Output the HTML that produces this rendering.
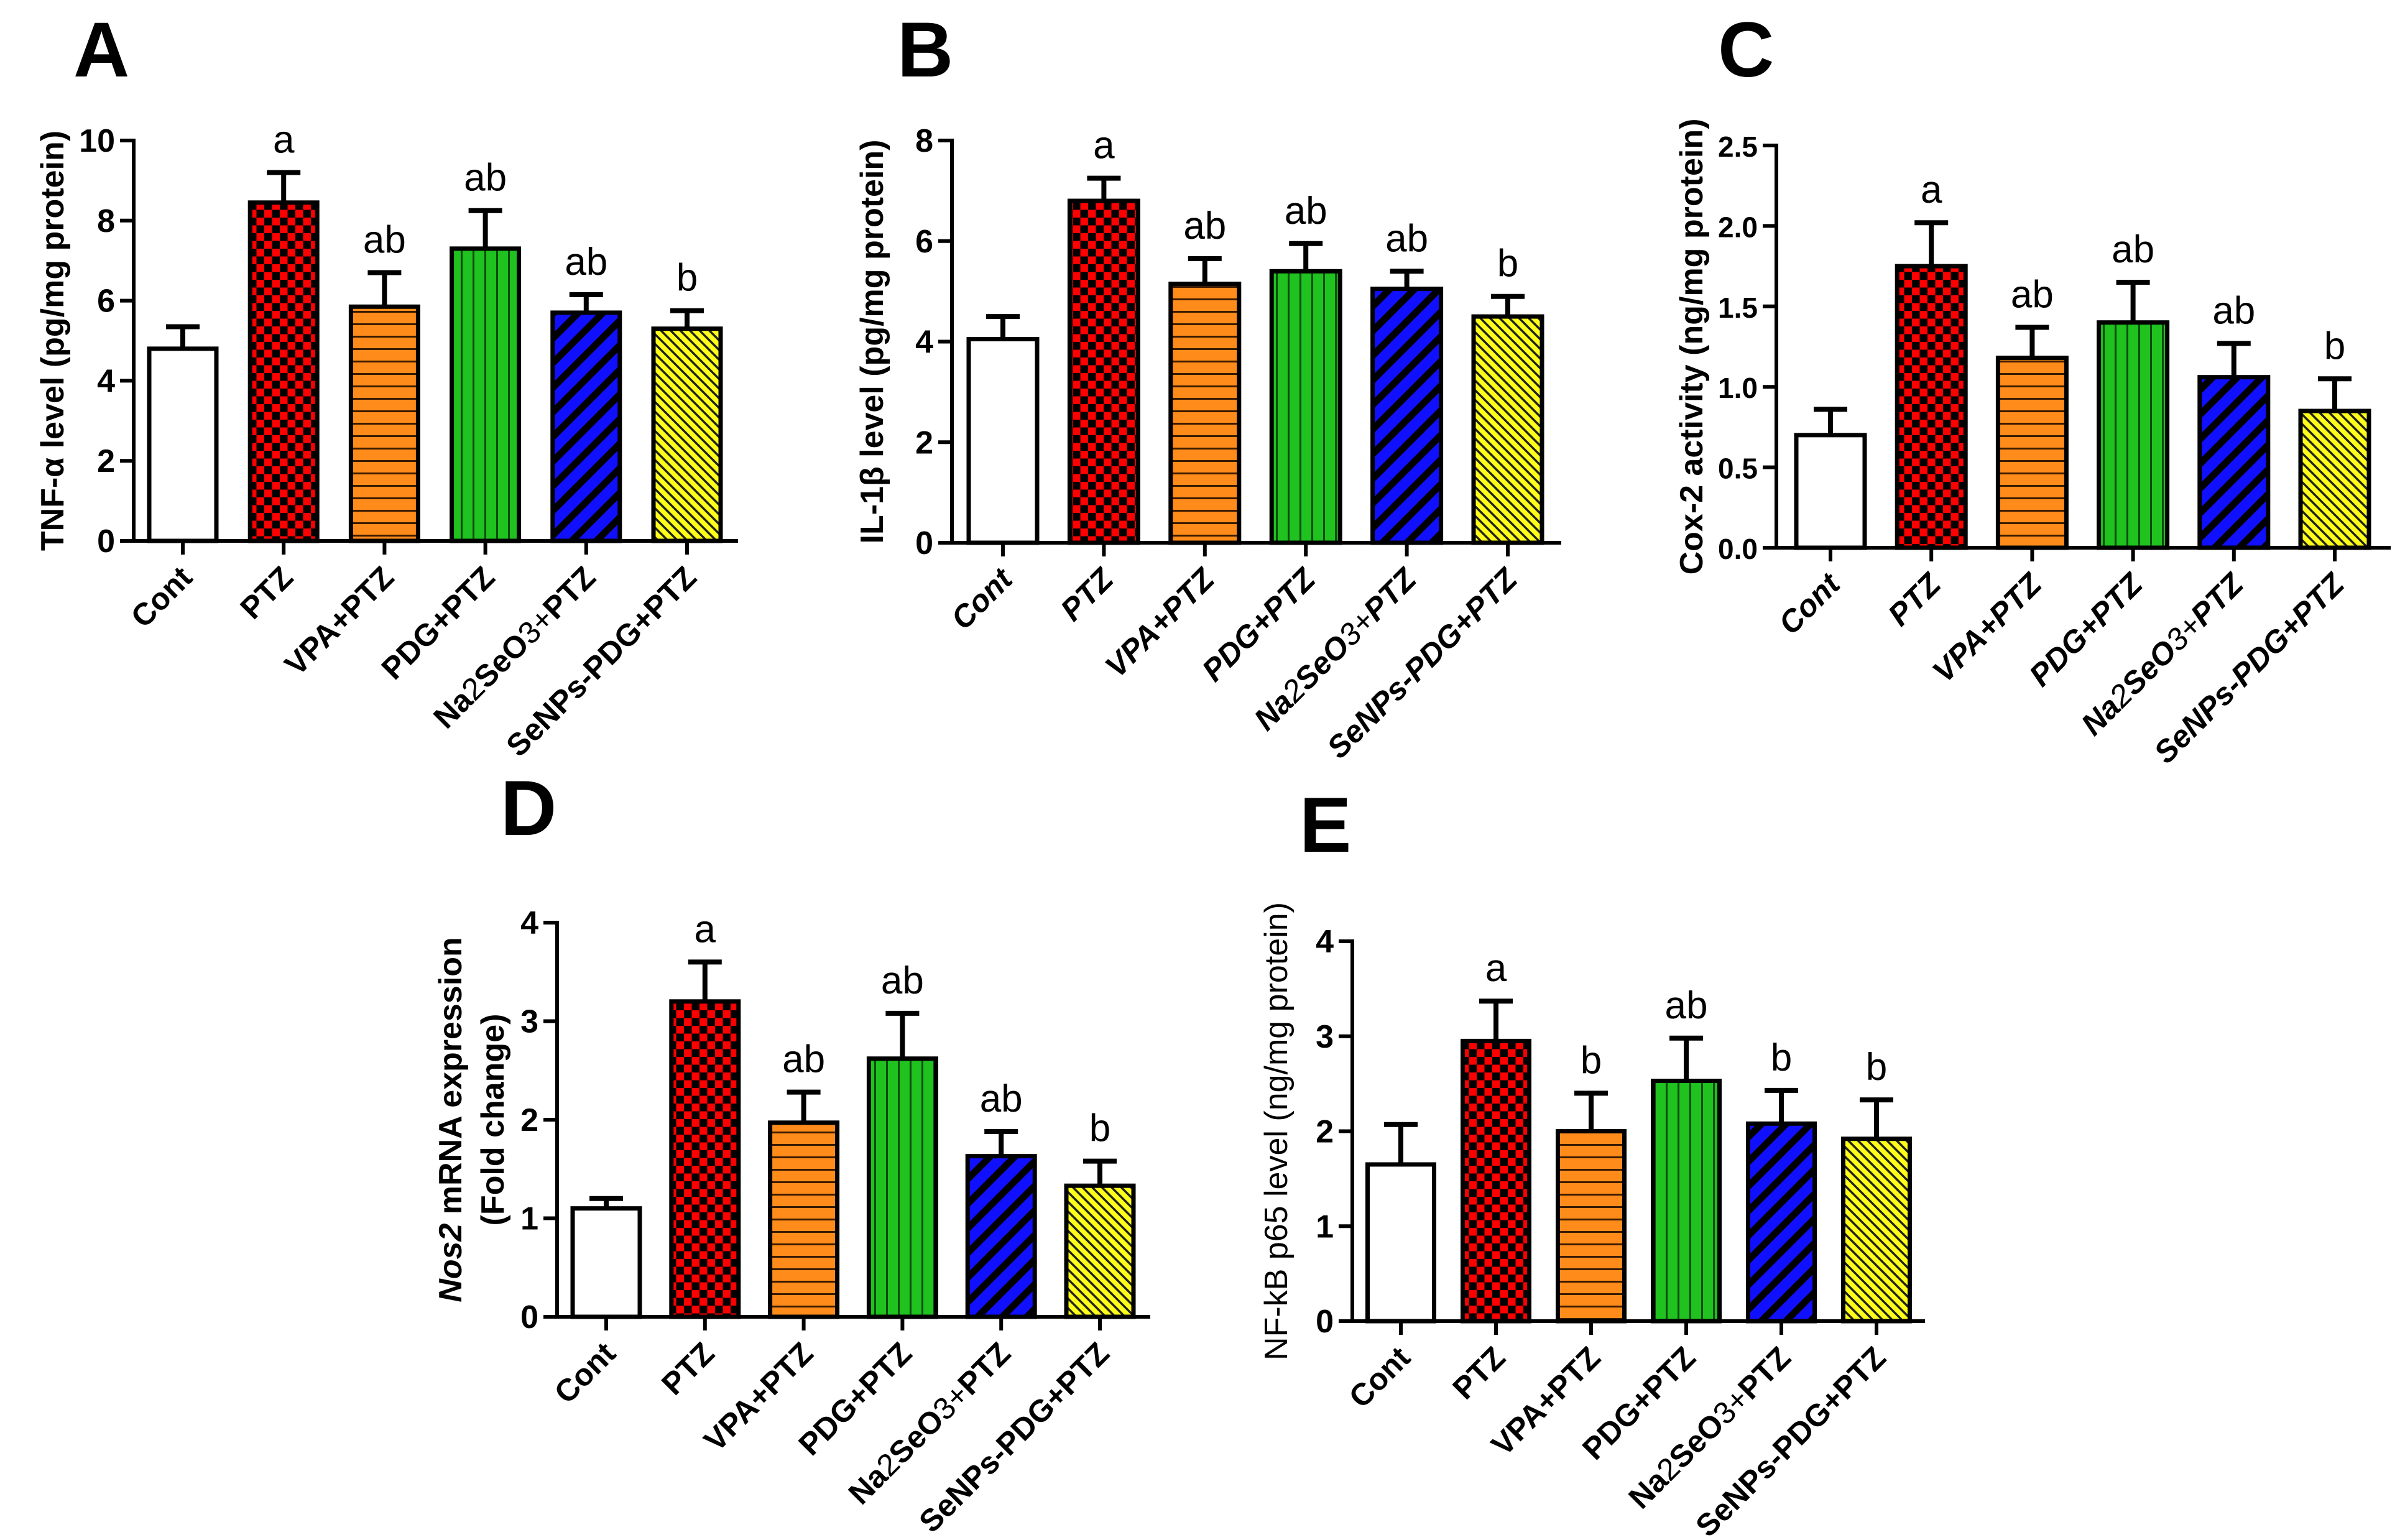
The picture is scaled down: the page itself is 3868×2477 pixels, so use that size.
<!DOCTYPE html>
<html><head><meta charset="utf-8">
<style>
html,body{margin:0;padding:0;background:#fff;}
svg{display:block;}
text{font-family:"Liberation Sans",Arial,sans-serif;}
</style></head>
<body>
<svg id="fig" width="3868" height="2477" viewBox="0 0 3868 2477" xmlns="http://www.w3.org/2000/svg">
<defs>
<pattern id="p-check" patternUnits="userSpaceOnUse" width="25" height="25"><rect width="25" height="25" fill="#ff0000"/><rect width="12.5" height="12.5" fill="#000"/><rect x="12.5" y="12.5" width="12.5" height="12.5" fill="#000"/></pattern>
<pattern id="p-horiz" patternUnits="userSpaceOnUse" width="20" height="20"><rect width="20" height="20" fill="#ff8c1a"/><rect y="0" width="20" height="3" fill="#3a1a00"/></pattern>
<pattern id="p-vert" patternUnits="userSpaceOnUse" width="19" height="19"><rect width="19" height="19" fill="#1fc21f"/><rect x="0" width="3" height="19" fill="#0a4a0a"/></pattern>
<pattern id="p-blue" patternUnits="userSpaceOnUse" width="28" height="28" patternTransform="rotate(45)"><rect width="28" height="28" fill="#1010ff"/><rect width="11" height="28" fill="#000"/></pattern>
<pattern id="p-yel" patternUnits="userSpaceOnUse" width="11" height="11" patternTransform="rotate(-45)"><rect width="11" height="11" fill="#ffff1a"/><rect width="3.5" height="11" fill="#222"/></pattern>
</defs>
</svg>
<script>
const categories = ["Cont","PTZ","VPA+PTZ","PDG+PTZ","Na2SeO3+PTZ","SeNPs-PDG+PTZ"];
const valuesA = [4.8, 8.45, 5.85, 7.3, 5.7, 5.3];
const errorsA = [0.55, 0.75, 0.85, 0.95, 0.45, 0.45];
const lettersA = ["", "a", "ab", "ab", "ab", "b"];
const ticksA = [0, 2, 4, 6, 8, 10];
const valuesB = [4.05, 6.8, 5.15, 5.4, 5.05, 4.5];
const errorsB = [0.45, 0.45, 0.5, 0.55, 0.35, 0.4];
const lettersB = ["", "a", "ab", "ab", "ab", "b"];
const ticksB = [0, 2, 4, 6, 8];
const valuesC = [0.70, 1.75, 1.18, 1.40, 1.06, 0.85];
const errorsC = [0.16, 0.27, 0.19, 0.25, 0.21, 0.20];
const lettersC = ["", "a", "ab", "ab", "ab", "b"];
const ticksC = [0, 0.5, 1.0, 1.5, 2.0, 2.5];
const valuesD = [1.1, 3.2, 1.97, 2.62, 1.63, 1.33];
const errorsD = [0.1, 0.4, 0.31, 0.46, 0.25, 0.25];
const lettersD = ["", "a", "ab", "ab", "ab", "b"];
const ticksD = [0, 1, 2, 3, 4];
const valuesE = [1.65, 2.95, 2.0, 2.53, 2.08, 1.92];
const errorsE = [0.42, 0.42, 0.4, 0.45, 0.35, 0.41];
const lettersE = ["", "a", "b", "ab", "b", "b"];
const ticksE = [0, 1, 2, 3, 4];

const fills = ["#fff","url(#p-check)","url(#p-horiz)","url(#p-vert)","url(#p-blue)","url(#p-yel)"];
const NS = "http://www.w3.org/2000/svg";
const svg = document.getElementById("fig");
function mk(tag, attrs, parent){const e=document.createElementNS(NS,tag);for(const k in attrs)e.setAttribute(k,attrs[k]);(parent||svg).appendChild(e);return e;}

function panel(cfg){
  const g = mk("g",{});
  
  
  const yMax = cfg.ticks[cfg.ticks.length-1];
  const y = v => cfg.y0 - (v/yMax)*(cfg.y0-cfg.yTop);
  const x = i => cfg.x0 + cfg.first + i*cfg.step;
  const L = mk("text",{x:cfg.lx,y:cfg.ly,"font-size":125,"font-weight":"bold"},g);
  L.textContent = cfg.id;
  
  
  cfg.values.forEach((v,i)=>{
    const cx = x(i), top = y(v), et = y(v+cfg.errors[i]);
    const eb = mk("line",{x1:cx,y1:top,x2:cx,y2:et,stroke:"#000","stroke-width":8},g);
    
    
    const cap = mk("line",{x1:cx-27,y1:et,x2:cx+27,y2:et,stroke:"#000","stroke-width":8},g);
    
    
    const r = mk("rect",{x:cx-cfg.bw/2,y:top,width:cfg.bw,height:cfg.y0-top,fill:fills[i],stroke:"#000","stroke-width":7},g);
    
    
    if(cfg.letters[i]){
      const t = mk("text",{x:cx,y:et-32,"font-size":62,"text-anchor":"middle"},g);
      t.textContent = cfg.letters[i];
      
      
    }
    const tk = mk("line",{x1:cx,y1:cfg.y0,x2:cx,y2:cfg.y0+22,stroke:"#000","stroke-width":6},g);
    
    
    const lab = mk("text",{transform:`translate(${cx+18},${cfg.y0+62}) rotate(-45)`,"font-size":50,"font-weight":"bold","text-anchor":"end","font-style":cfg.italic?"italic":"normal"},g);
    const name = categories[i];
    if(name.startsWith("Na2")){
      lab.appendChild(document.createTextNode("Na"));
      const s1 = mk("tspan",{"font-weight":"normal"},lab); s1.textContent="2";
      lab.appendChild(document.createTextNode("SeO"));
      const s2 = mk("tspan",{"font-weight":"normal"},lab); s2.textContent="3+";
      lab.appendChild(document.createTextNode("PTZ"));
    } else lab.textContent = name;
    
    
  });
  const ya = mk("line",{x1:cfg.x0,y1:cfg.yTop-3,x2:cfg.x0,y2:cfg.y0+3,stroke:"#000","stroke-width":6},g);
  
  
  const xa = mk("line",{x1:cfg.x0-22,y1:cfg.y0,x2:cfg.xEnd,y2:cfg.y0,stroke:"#000","stroke-width":6},g);
  
  
  cfg.ticks.forEach(t=>{
    const yy = y(t);
    const tl = mk("line",{x1:cfg.x0-22,y1:yy,x2:cfg.x0,y2:yy,stroke:"#000","stroke-width":6},g);
    
    
    const tt = mk("text",{x:cfg.x0-30,y:yy+18,"font-size":cfg.tickFs||52,"font-weight":"bold","text-anchor":"end"},g);
    tt.textContent = cfg.tickFmt ? t.toFixed(1) : String(t);
    
    
  });
  const cy = (cfg.y0+cfg.yTop)/2;
  cfg.title.forEach((line,j)=>{
    const tt = mk("text",{transform:`translate(${cfg.tx + j*68},${cy}) rotate(-90)`,"font-size":cfg.titleFs||52,"font-weight":cfg.titleBold===false?"normal":"bold","text-anchor":"middle"},g);
    tt.innerHTML = line;
    
    
  });
}

panel({id:"A",values:valuesA,errors:errorsA,letters:lettersA,ticks:ticksA,x0:215,xEnd:1187,yTop:226,y0:870,first:79,step:162.2,bw:108,lx:118,ly:123,tx:102,title:["TNF-&#945; level (pg/mg protein)"]});
panel({id:"B",values:valuesB,errors:errorsB,letters:lettersB,ticks:ticksB,x0:1531,xEnd:2511,yTop:226,y0:873,first:82,step:162.4,bw:110,lx:1443,ly:123,tx:1420,italic:true,title:["IL-1&#946; level (pg/mg protein)"]});
panel({id:"C",values:valuesC,errors:errorsC,letters:lettersC,ticks:ticksC,x0:2857,xEnd:3845,yTop:234,y0:881,first:87,step:162.2,bw:110,lx:2763,ly:123,tx:2738,italic:true,tickFmt:true,tickFs:46,title:["Cox-2 activity (ng/mg protein)"]});
panel({id:"D",values:valuesD,errors:errorsD,letters:lettersD,ticks:ticksD,x0:896,xEnd:1850,yTop:1484,y0:2118,first:79,step:158.8,bw:108,lx:805,ly:1343,tx:742,title:["<tspan font-style='italic'>Nos2</tspan> mRNA expression","(Fold change)"]});
panel({id:"E",values:valuesE,errors:errorsE,letters:lettersE,ticks:ticksE,x0:2175,xEnd:3096,yTop:1514,y0:2125,first:78,step:153,bw:107,lx:2090,ly:1370,tx:2070,titleBold:false,title:["NF-kB p65 level (ng/mg protein)"]});
</script>
</body></html>
